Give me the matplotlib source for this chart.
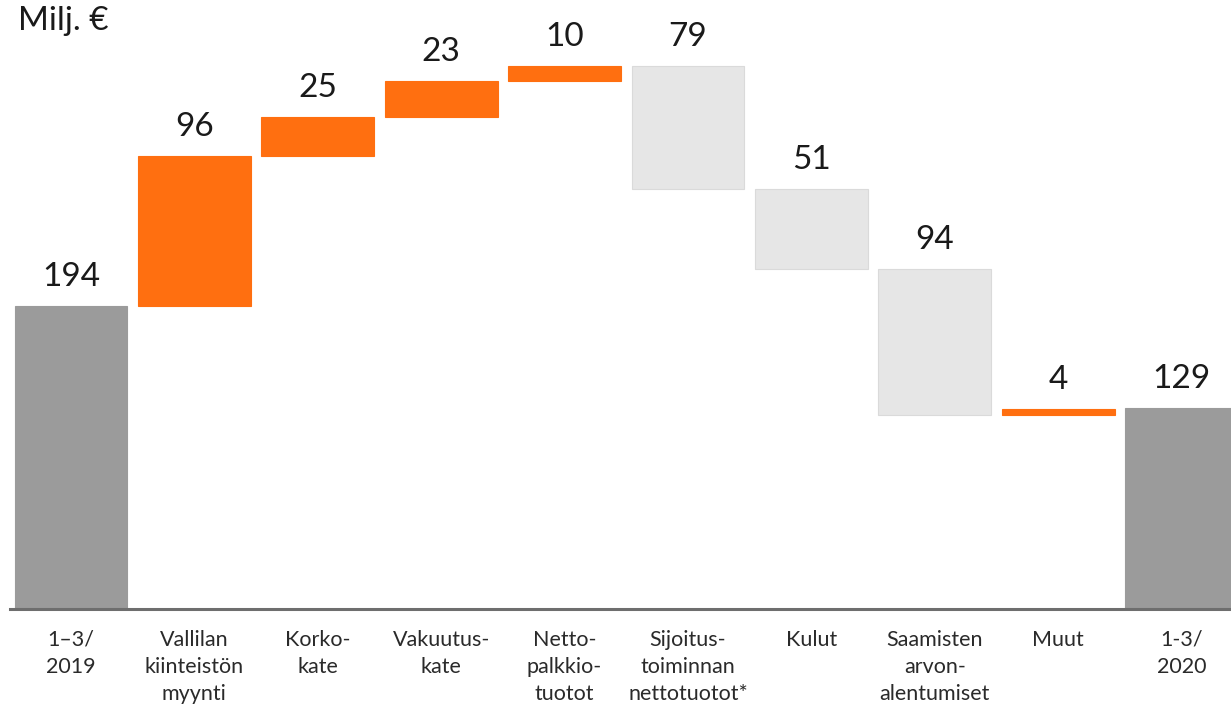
import matplotlib.pyplot as plt
import numpy as np

plt.rcParams['font.family'] = ['Lato', 'DejaVu Sans']

# data
categories = ["1–3/\n2019", "Vallilan\nkiinteistön\nmyynti", "Korko-\nkate", "Vakuutus-\nkate",
              "Netto-\npalkkio-\ntuotot", "Sijoitus-\ntoiminnan\nnettotuotot*", "Kulut",
              "Saamisten\narvon-\nalentumiset", "Muut", "1-3/\n2020"]
changes = [194, 96, 25, 23, 10, -79, -51, -94, 4, 129]
kinds = ["total", "up", "up", "up", "up", "down", "down", "down", "up", "total"]
labels = ["194", "96", "25", "23", "10", "79", "51", "94", "4", "129"]

colors = {"total": "#9b9b9b", "up": "#ff6f10", "down": "#e6e6e6"}

#create window
fig = plt.figure(figsize=(12.31, 7.06), dpi=100)
ax = fig.add_axes([10 / 1231, 97 / 706, 1 - 10 / 1231, 609 / 706])

x = np.arange(len(changes))
running = 0
for i, (v, k) in enumerate(zip(changes, kinds)):
    if k == "total":
        bottom, height = 0, v
        running = v
    else:
        bottom = running if v > 0 else running + v
        height = abs(v)
        running += v
    edge = "#dadada" if k == "down" else colors[k]
    ax.bar(x[i], height, bottom=bottom, width=0.915, color=colors[k],
           edgecolor=edge, linewidth=0.8)
    ax.text(x[i], bottom + height + 9, labels[i], ha="center", va="bottom",
            fontsize=24, color="#1a1a1a")

ax.set_xlim(-0.494, 9.40)
ax.set_ylim(0, 390)

#baseline
ax.axhline(0, color="#6e6e6e", linewidth=2.2, clip_on=False)

ax.set_xticks(x)
ax.set_xticklabels(categories, fontsize=15.5, color="#2a2a2a",
                   linespacing=1.45, va="top")
ax.tick_params(axis="x", length=0, pad=15)
ax.set_yticks([])
for s in ax.spines.values():
    s.set_visible(False)

fig.text(18 / 1231, 1 - 6 / 706, "Milj. €", ha="left", va="top", fontsize=24,
         color="#1a1a1a")

fig.savefig("out.png", dpi=100)
